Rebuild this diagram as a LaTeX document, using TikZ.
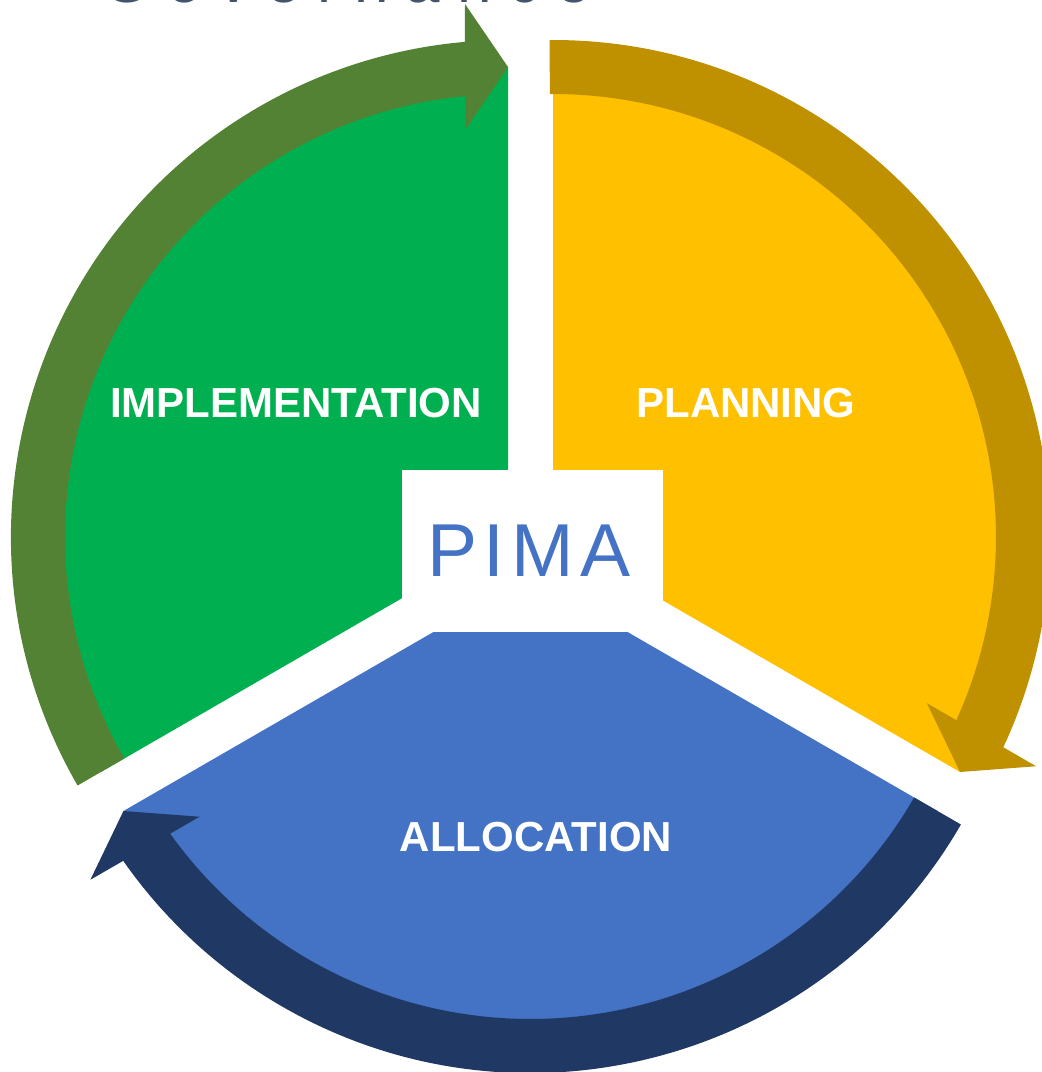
\documentclass[tikz,border=0pt]{standalone}
\usepackage{fontspec}
\setmainfont{Liberation Sans}
\newfontfamily\govfont[LetterSpace=27]{Liberation Sans}
\newfontfamily\pimafont[LetterSpace=9]{Liberation Sans}
\definecolor{grnfill}{HTML}{00B050}
\definecolor{grnarrow}{HTML}{548235}
\definecolor{ylwfill}{HTML}{FFC000}
\definecolor{ylwarrow}{HTML}{BF9000}
\definecolor{blufill}{HTML}{4472C4}
\definecolor{bluarrow}{HTML}{203864}
\definecolor{titlegray}{HTML}{44546A}
% #1 centre, #2 tip angle, #3 tail angle relative to tip, #4 colour
\newcommand{\cyclearrow}[4]{%
  \begin{scope}[shift={#1}, rotate=#2]
    \fill[#4] (#3:497) arc[start angle=#3, end angle=4.97, radius=497]
      -- (533,43) -- (470,0) -- (407,43) -- (5.57:443)
      arc[start angle=5.57, end angle=#3, radius=443] -- cycle;
  \end{scope}}
\tikzset{
  seclabel/.style={text=white, font=\bfseries\fontsize{42}{48}\selectfont, inner sep=0pt},
}
\begin{document}
\begin{tikzpicture}[x=1pt,y=1pt]
\useasboundingbox (0,0) rectangle (1042,1072);
% title (cut off at top)
\node[anchor=base west, inner sep=0pt, text=titlegray, font=\govfont\fontsize{62}{70}\selectfont] (title) at (102,1069) {Governance};
% sectors
\fill[grnfill] (508,535) -- ++(90:470) arc[start angle=90, end angle=210, radius=470] -- cycle;
\fill[ylwfill] (553,535) -- ++(90:470) arc[start angle=90, end angle=-30, radius=470] -- cycle;
\fill[blufill] (530.5,496) -- ++(210:470) arc[start angle=210, end angle=330, radius=470] -- cycle;
% arrows
\cyclearrow{(508,535)}{90}{120}{grnarrow}
\cyclearrow{(553,535)}{-30}{120.4}{ylwarrow}
\cyclearrow{(530.5,496)}{210}{120}{bluarrow}
% centre box
\fill[white] (402,440) rectangle (663,602);
\node[anchor=base west, inner sep=0pt, text=blufill, font=\pimafont\fontsize{75}{80}\selectfont] (pima) at (427,495) {PIMA};
% labels
\node[seclabel, anchor=base] (impl) at (296,654) {IMPLEMENTATION};
\node[seclabel, anchor=base] (plan) at (746,654) {PLANNING};
\node[seclabel, anchor=base] (alloc) at (536,220) {ALLOCATION};
\end{tikzpicture}
\end{document}
